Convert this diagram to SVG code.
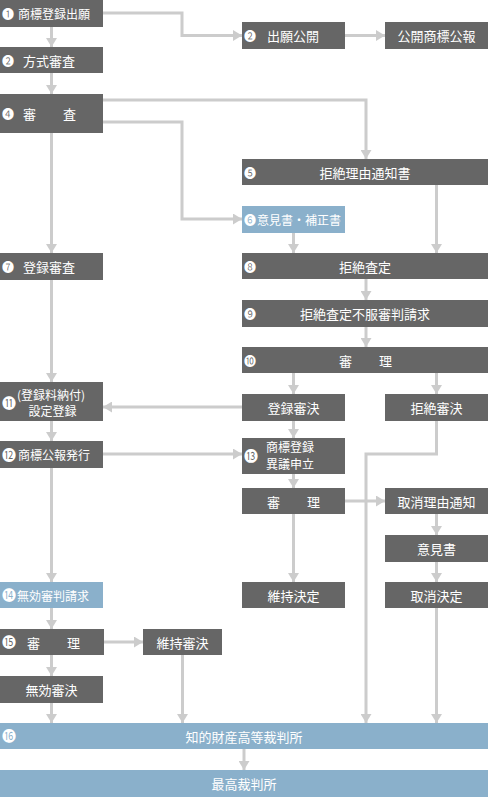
<svg xmlns="http://www.w3.org/2000/svg" width="488" height="797" viewBox="0 0 488 797">
<defs>
<style>
.d{fill:#666666}
.b{fill:#8ab0cb}
text{font-family:"Noto Sans CJK JP","Noto Sans",sans-serif;fill:#ffffff;font-size:13px;dominant-baseline:central}
.c{text-anchor:middle}
.n{font-size:14px;font-family:"DejaVu Sans","Noto Sans CJK JP",sans-serif}
.m{font-size:12px;font-family:"Noto Sans CJK JP","DejaVu Sans",sans-serif}
.s{font-size:12px}
#conn path{fill:none;stroke:#cccccc;stroke-width:3;marker-end:url(#ah)}
</style>
<marker id="ah" markerUnits="userSpaceOnUse" markerWidth="9" markerHeight="11" refX="9" refY="5.5" orient="auto">
<path d="M0,0 L9,5.5 L0,11 z" fill="#cccccc"/>
</marker>
</defs>
<rect width="488" height="797" fill="#ffffff"/>
<g id="conn">
<path d="M103,13 H182 V35.5 H242"/>
<path d="M345,35.5 H385"/>
<path d="M51.5,27 V47"/>
<path d="M51.5,73 V94"/>
<path d="M103,100 H366 V159"/>
<path d="M103,122 H182 V219 H242"/>
<path d="M51.5,133 V253"/>
<path d="M293.5,233 V253"/>
<path d="M436.5,185 V253"/>
<path d="M366,279 V300"/>
<path d="M366,327 V347"/>
<path d="M293.5,373 V394"/>
<path d="M436.5,373 V394"/>
<path d="M51.5,280 V382"/>
<path d="M242,407 H103"/>
<path d="M293.5,421 V438"/>
<path d="M51.5,421 V441"/>
<path d="M103,454 H242"/>
<path d="M436.5,421 V454 H366 V723"/>
<path d="M293.5,474 V488"/>
<path d="M345,501 H385"/>
<path d="M293.5,514 V582"/>
<path d="M436.5,514 V535"/>
<path d="M436.5,562 V582"/>
<path d="M436.5,608 V723"/>
<path d="M51.5,468 V582"/>
<path d="M51.5,608 V629"/>
<path d="M103,642 H143"/>
<path d="M51.5,655 V676"/>
<path d="M182.5,655 V723"/>
<path d="M51.5,703 V723"/>
<path d="M244,749 V770"/>
</g>
<g id="n1"><rect class="d" x="0" y="0" width="103" height="27"/><text class="m" x="2" y="13.5">❶</text><text class="s" x="18" y="13.5">商標登録出願</text></g>
<g id="n2"><rect class="d" x="0" y="47" width="103" height="26"/><text class="m" x="2" y="60">❷</text><text x="23" y="60">方式審査</text></g>
<g id="n3"><rect class="d" x="242" y="22" width="103" height="27"/><text class="m" x="244" y="35.5">❷</text><text x="267" y="35.5">出願公開</text></g>
<g id="n3b"><rect class="d" x="385" y="22" width="103" height="27"/><text class="c" x="436.5" y="35.5">公開商標公報</text></g>
<g id="n4"><rect class="d" x="0" y="94" width="103" height="39"/><text class="m" x="2" y="113.5">❹</text><text x="23" y="113.5">審</text><text x="63" y="113.5">査</text></g>
<g id="n5"><rect class="d" x="242" y="159" width="246" height="26"/><text class="m" x="244" y="172">❺</text><text class="c" x="365" y="172">拒絶理由通知書</text></g>
<g id="n6"><rect class="b" x="242" y="206" width="103" height="27"/><text class="m" x="244" y="219.5">❻</text><text class="s" x="257" y="219.5">意見書・補正書</text></g>
<g id="n7"><rect class="d" x="0" y="253" width="103" height="27"/><text class="m" x="2" y="266.5">❼</text><text x="23" y="266.5">登録審査</text></g>
<g id="n8"><rect class="d" x="242" y="253" width="246" height="26"/><text class="m" x="244" y="266">❽</text><text class="c" x="365" y="266">拒絶査定</text></g>
<g id="n9"><rect class="d" x="242" y="300" width="246" height="27"/><text class="m" x="244" y="313.5">❾</text><text class="c" x="365" y="313.5">拒絶査定不服審判請求</text></g>
<g id="n10"><rect class="d" x="242" y="347" width="246" height="26"/><text class="m" x="244" y="360">❿</text><text x="339" y="360">審</text><text x="379" y="360">理</text></g>
<g id="n10a"><rect class="d" x="242" y="394" width="103" height="27"/><text class="c" x="293.5" y="407.5">登録審決</text></g>
<g id="n10b"><rect class="d" x="385" y="394" width="103" height="27"/><text class="c" x="436.5" y="407.5">拒絶審決</text></g>
<g id="n11"><rect class="d" x="0" y="382" width="103" height="39"/><text class="n" x="2" y="403">⓫</text><text class="c s" x="51" y="394">(登録料納付)</text><text class="c s" x="52.5" y="410">設定登録</text></g>
<g id="n12"><rect class="d" x="0" y="441" width="103" height="27"/><text class="n" x="2" y="454.5">⓬</text><text class="s" x="18" y="454.5">商標公報発行</text></g>
<g id="n13"><rect class="d" x="242" y="438" width="103" height="36"/><text class="n" x="244" y="456">⓭</text><text class="c s" x="290" y="446">商標登録</text><text class="c s" x="290" y="463">異議申立</text></g>
<g id="n13a"><rect class="d" x="242" y="488" width="103" height="26"/><text x="267" y="501">審</text><text x="307" y="501">理</text></g>
<g id="n13b"><rect class="d" x="385" y="488" width="103" height="26"/><text class="c" x="436.5" y="501">取消理由通知</text></g>
<g id="n13c"><rect class="d" x="385" y="535" width="103" height="27"/><text class="c" x="436.5" y="548.5">意見書</text></g>
<g id="n13d"><rect class="d" x="385" y="582" width="103" height="26"/><text class="c" x="436.5" y="595">取消決定</text></g>
<g id="n13e"><rect class="d" x="242" y="582" width="103" height="26"/><text class="c" x="293.5" y="595">維持決定</text></g>
<g id="n14"><rect class="b" x="0" y="582" width="103" height="26"/><text class="n" x="2" y="595">⓮</text><text class="s" x="17" y="595">無効審判請求</text></g>
<g id="n15"><rect class="d" x="0" y="629" width="104" height="26"/><text class="n" x="2" y="642">⓯</text><text x="27" y="642">審</text><text x="67" y="642">理</text></g>
<g id="n15a"><rect class="d" x="143" y="629" width="79" height="26"/><text class="c" x="182.5" y="642">維持審決</text></g>
<g id="n15b"><rect class="d" x="0" y="676" width="103" height="27"/><text class="c" x="51.5" y="689.5">無効審決</text></g>
<g id="n16"><rect class="b" x="0" y="723" width="488" height="26"/><text class="n" x="2" y="736">⓰</text><text class="c" x="244" y="736">知的財産高等裁判所</text></g>
<g id="n17"><rect class="b" x="0" y="770" width="488" height="27"/><text class="c" x="244" y="783.5">最高裁判所</text></g>
</svg>
